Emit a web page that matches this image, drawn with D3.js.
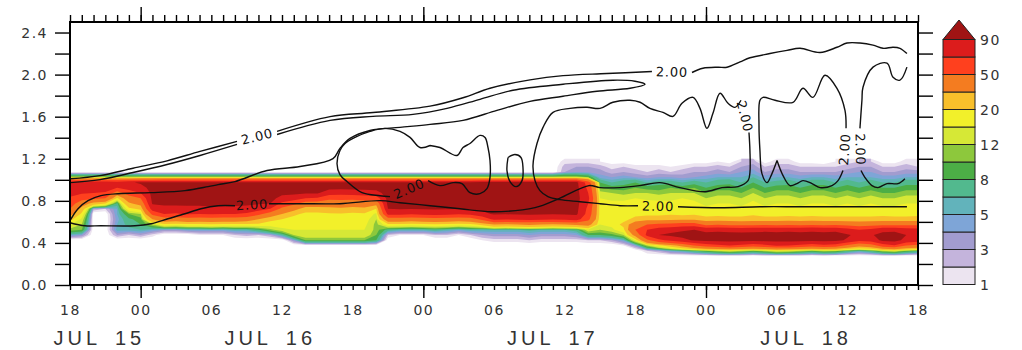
<!DOCTYPE html>
<html>
<head>
<meta charset="utf-8">
<script src="https://cdn.jsdelivr.net/npm/d3@7"></script>
<style>
  html, body { margin: 0; padding: 0; background: #fff; }
  svg { display: block; }
</style>
</head>
<body>
<svg id="chart" width="1022" height="350"></svg>
<script>
// ---------------- data ----------------
// Time axis: hours after JUL 15 18:00, one profile per hour.
const profileStartHour = 0;
const profileStepHours = 1;
const hourTickValues = [0, 6, 12, 18, 24, 30, 36, 42, 48, 54, 60, 66, 72];
const hourTickLabels = ["18", "00", "06", "12", "18", "00", "06", "12", "18", "00", "06", "12", "18"];
const dayTickHours = [6, 30, 54];
const dateLabels = ["JUL 15", "JUL 16", "JUL 17", "JUL 18"];
const dateLabelHours = [2.5, 17, 41, 62.5];

// Height axis (km)
const heightTickValues = [0, 0.2, 0.4, 0.6, 0.8, 1.0, 1.2, 1.4, 1.6, 1.8, 2.0, 2.2, 2.4];
const heightLabelValues = [0, 0.4, 0.8, 1.2, 1.6, 2.0, 2.4];

// Shading levels and their colours (last colour = above the top level)
const levels = [1, 2, 3, 4, 5, 6, 8, 10, 12, 15, 20, 30, 50, 70, 90];
const levelColors = ["#ece4f0", "#c4b4dc", "#a29ccf", "#7ea5d7", "#62b3bb", "#52b98e", "#4cae46",
                     "#8dc83c", "#d6e836", "#f2f02a", "#f8bf2b", "#f47c20", "#ff401e", "#dc1c1c", "#a01414"];
const colorbarLabelLevels = [1, 3, 5, 8, 12, 20, 50, 90];

// Sample heights of each profile (km), bottom to top
const sampleHeights = [0.275, 0.325, 0.375, 0.425, 0.475, 0.525, 0.575, 0.625, 0.675, 0.725,
                       0.775, 0.825, 0.875, 0.925, 0.975, 1.025, 1.075, 1.125, 1.175];

// Hourly profiles, bottom to top
const field = [
  [0,0,0,0,5,11,15,22,35,50,60,68,75,80,80,12,0,0,0],
  [0,0,0,0,4,10,12,14,18,25,38,58,72,80,82,12,0,0,0],
  [0,0,0,0,0,0,0,0,0,3,25,55,70,80,82,12,0,0,0],
  [0,0,0,0,0,0,0,0,0,2,20,50,68,80,82,12,0,0,0],
  [0,0,0,0,3,5.5,5,4.5,5,5,7,18,40,70,80,12,0,0,0],
  [0,0,0,0,2,5.5,6.5,7.5,10,18,28,40,60,78,88,12,0,0,0],
  [0,0,0,0,3,6,8,9,12,22,35,50,70,85,92,12,0,0,0],
  [0,0,0,0,1.5,5,12,30,55,80,92,95,95,95,93,12,0,0,0],
  [0,0,0,0,0,4,18,40,70,85,93,95,96,96,94,12,0,0,0],
  [0,0,0,0,0,4,17,38,68,85,93,95,96,96,94,12,0,0,0],
  [0,0,0,0,0,5,18,42,72,86,93,95,96,96,94,12,0,0,0],
  [0,0,0,0,1,5,18,40,70,85,94,95,96,96,94,12,0,0,0],
  [0,0,0,0,1,5,19,42,72,87,94,95,96,96,94,12,0,0,0],
  [0,0,0,0,1,5,18,40,70,86,93,95,96,96,94,12,0,0,0],
  [0,0,0,0,2,6,18,40,70,86,94,95,96,96,94,12,0,0,0],
  [0,0,0,0,2.5,6,18,38,66,85,93,95,96,96,94,12,0,0,0],
  [0,0,0,0,2,8,18,30,55,80,92,95,96,96,94,12,0,0,0],
  [0,0,0,0,3,11,17,22,40,70,90,95,96,96,94,12,0,0,0],
  [0,0,0,0,6,14,17,20,30,45,65,85,94,96,94,12,0,0,0],
  [0,0,0,4,12,15,16,17,22,35,55,80,94,96,94,12,0,0,0],
  [0,0,0,10,14,15,16,16,18,25,40,70,92,96,94,12,0,0,0],
  [0,0,0,10,14,15,16,16,18,25,40,68,92,96,94,12,0,0,0],
  [0,0,0,10,14,15,16,17,19,27,38,55,80,95,94,12,0,0,0],
  [0,0,0,10,14,15,16,17,19,28,40,55,78,95,94,12,0,0,0],
  [0,0,0,10,14,15,16,16,18,26,38,55,80,95,94,12,0,0,0],
  [0,0,0,10,14,15,16,17,19,27,40,58,82,95,94,12,0,0,0],
  [0,0,0,8,10,11,11,12,14,20,35,60,85,95,94,12,0,0,0],
  [0,0,0,0,2,7,18,40,75,90,95,96,96,96,94,12,0,0,0],
  [0,0,0,0,1,6,18,40,75,92,95,96,96,96,94,12,0,0,0],
  [0,0,0,0,1,6,17,38,72,91,95,96,96,96,94,12,0,0,0],
  [0,0,0,0,1,6,18,40,75,92,95,96,96,96,94,12,0,0,0],
  [0,0,0,0,2,7,19,42,76,92,95,96,96,96,94,12,0,0,0],
  [0,0,0,0,2,6,18,40,75,92,95,96,96,96,94,12,0,0,0],
  [0,0,0,0,1,5,17,38,72,91,95,96,96,96,94,12,0,0,0],
  [0,0,0,0,2,6,18,40,75,92,95,96,96,96,94,12,0,0,0],
  [0,0,0,1,3,6,22,55,85,94,96,96,96,96,95,12,0,0,0],
  [0,0,0,1.5,3.5,6,30,75,92,95,96,96,96,96,95,12,0,0,0],
  [0,0,0,1.5,3.5,6,28,72,91,95,96,96,96,96,95,12,0,0,0],
  [0,0,0,1.5,3.5,6,30,75,92,95,96,96,96,96,95,12,0,0,0],
  [0,0,0,2,4,6.5,32,76,92,95,96,96,96,96,95,12,0,0,0],
  [0,0,0,1.5,3.5,6,30,74,92,95,96,96,96,96,95,12,0,0,0],
  [0,0,0,1.5,3.5,6,28,72,91,95,96,96,96,96,95,12,0,0,0],
  [0,0,0,1.5,3.5,6,30,75,92,95,96,96,96,96,95,12,3,2.5,1.5],
  [0,0,0,1.5,4,7,32,78,93,95,96,96,96,96,95,12,3.5,3,1.5],
  [0,0,0,2,8,14,35,55,62,65,70,75,70,65,60,10,3.5,3,1.5],
  [0,0,0,2,8,12,15,16,17,17,17,15,13,10,8,4.5,3.5,2.5,1],
  [0,0,0,3,9,14,16,16,17,17,16,14,12,9,6,4,2.5,1.5,0.5],
  [0,0,1,5,12,18,22,18,17,17,16,14,11,9,7,4.5,3,2,0.5],
  [0,0,4,15,35,50,40,22,18,17,16,15,12,10,8,4,2.5,1.5,0],
  [0,2,12,45,75,70,50,25,18,17,17,14,12,9,6,3.5,2,1.5,0],
  [0,3,18,65,90,80,55,25,18,18,16,14,11,9,7,4,2.5,1.5,0],
  [0,5,25,75,93,85,55,26,19,17,16,14,12,10,7,4,2,1,0],
  [0,6,35,85,95,88,60,27,18,17,16,15,12,9,6,3.5,2.5,1.5,0],
  [0,8,50,92,96,90,60,27,19,17,16,14,12,10,7,4,3,2,0.5],
  [0,10,60,94,96,85,45,22,18,16,14,12,10,8,6,4.5,3,2,0.5],
  [0,12,65,95,96,86,48,23,18,16,15,13,11,9,7,5,3.5,2.5,1],
  [0,14,70,96,96,85,45,22,18,17,15,13,11,9,7.5,5,3,2,0.5],
  [0,12,65,95,96,84,44,22,18,16,14,12,10,8,6,5,4,3,2],
  [0,10,60,94,96,85,45,23,19,17,16,14,12,10,8,6,4.5,3.5,2.5],
  [0,12,65,95,96,86,46,22,18,16,14,12,10,8,6,4.5,3,2,0.5],
  [0,15,72,96,96,85,45,22,18,16,15,13,11,9,6.5,5,3.5,2.5,1.5],
  [0,14,70,96,96,86,46,23,18,17,15,13,11,9,7,5,3.5,2.5,1.5],
  [0,12,65,95,96,85,45,22,18,16,14,12,10,8,6,4.5,3,2,0.5],
  [0,10,60,94,96,86,47,23,18,17,15,13,11,9,7,5,3,2,0.5],
  [0,12,65,95,96,85,45,22,18,16,15,13,11,9,7,5,3,2,0],
  [0,11,62,94,96,86,46,22,18,16,14,12,10,8,6,4.5,3,2,1],
  [0,8,45,88,92,80,42,22,18,17,15,13,11,9,7,5,3.5,2.5,1.5],
  [0,6,35,75,85,70,40,22,18,16,14,12,10,8,6,5,4,3,2],
  [0,8,40,80,88,75,42,22,18,17,15,13,11,9,7,5,4,3,2],
  [0,12,60,94,96,85,45,23,18,16,14,12,10,8,6,4.5,3,2,0.5],
  [0,14,68,96,96,86,45,22,18,16,14,12,10,8,6,4.5,3,2,0.5],
  [0,10,50,85,90,80,45,22,18,16,15,13,11,9,7,5,3.5,2.5,1.5],
  [0,8,45,80,88,78,45,23,18,16,15,13,11,9,7,5,3.5,2,1]
];

// 2.00 isolines as [hour, km]; null marks a break where the value is written
const contourLevel = 2;
const contourA = [[0,1.01],[2.55,1.04],[5.35,1.11],[8.24,1.18],[11.04,1.27],[14.18,1.365],null,[17.58,1.46],
  [22.08,1.60],[25.73,1.64],[30.57,1.70],[33.37,1.78],[35.66,1.87],[39.06,1.95],[41.86,1.99],[45.59,2.01],[49.41,2.03],null,
  [52.81,2.02],[53.74,2.06],[55.02,2.07],[55.78,2.07],[56.89,2.12],[57.73,2.16],[59.43,2.20],[60.88,2.23],[61.98,2.25],
  [63.68,2.21],[65.12,2.26],[65.97,2.30],[67.07,2.30],[68.18,2.28],[69.03,2.25],[69.88,2.26],[70.47,2.25],[71.06,2.20]];
const contourB = [[0,0.973],[2.55,1.002],[5.35,1.069],[8.24,1.145],[11.04,1.231],[14.18,1.336],null,[17.58,1.431],
  [22.08,1.565],[25.73,1.603],[29.12,1.622],[32.01,1.679],[34.81,1.765],[37.61,1.851],[41.86,1.908],[46.10,1.947],
  [47.97,1.937],[48.82,1.908],[47.55,1.870],[44.74,1.842],[41.86,1.794],[39.06,1.746],[36.25,1.660],[33.37,1.565],
  [30.57,1.527],[28.02,1.498],[25.47,1.469],[23.77,1.393],[22.92,1.298],[22.33,1.202],[19.53,1.126],[16.73,1.088],
  [14.01,0.983],[12.57,0.954],[11.72,0.935],[9.76,0.897],[6.88,0.878],[4.08,0.868],[2.63,0.849],[1.53,0.802],
  [0.68,0.725],[0,0.611]];
const contourLower = [[0,0.592],[1.27,0.563],[2.63,0.563],[5.52,0.563],[6.88,0.582],[8.32,0.630],[9.76,0.677],
  [11.12,0.725],[12.57,0.754],[14.01,0.754],null,[16.90,0.773],[19.53,0.773],[22.92,0.773],[26.32,0.802],[28.02,0.782],
  [30.57,0.754],[33.11,0.725],[35.83,0.697],[39.48,0.735],[41.52,0.821],[44.07,0.945],[45.0,0.926],[46.70,0.926],
  [48.40,0.945],[50.09,0.973],[51.79,0.926],[53.91,0.887],[55.36,0.926],[56.72,0.935],[57.57,0.992],[57.73,1.069],
  [57.73,1.279],[57.65,1.450],null,[56.97,1.756],[56.46,1.689],[55.87,1.727],[55.19,1.823],[54.59,1.632],[54.08,1.489],
  [53.49,1.679],[52.90,1.784],[51.96,1.727],[51.20,1.603],[50.35,1.641],[49.24,1.679],[48.40,1.737],[47.55,1.756],
  [46.10,1.737],[45.0,1.679],[43.90,1.689],[42.45,1.679],[41.01,1.641],[40.16,1.498],[39.65,1.345],[39.31,1.136],
  [39.48,0.992],[39.90,0.897],[40.58,0.840],[41.60,0.811],[43.30,0.792],[45.0,0.773],[46.70,0.754],[48.23,0.754],null,
  [51.62,0.744],[55.19,0.735],[58.58,0.744],[61.98,0.744],[65.38,0.744],[67.92,0.744],[71.06,0.744]];
const contourLobe = [[30.57,1.326],[29.72,1.307],[28.87,1.403],[28.02,1.460],[26.74,1.489],[25.47,1.460],[24.20,1.403],
  [23.35,1.345],[22.92,1.279],[22.67,1.155],[22.92,1.050],[23.52,0.983],[24.79,0.878],[26.32,0.849],[27.17,0.840],null,
  [30.40,0.992],[31.41,0.945],[32.52,0.973],[33.28,0.964],[33.96,0.878],[34.81,0.868],[35.40,0.916],[35.66,1.021],
  [35.66,1.183],[35.49,1.307],[35.24,1.403],[34.81,1.422],[33.96,1.345],[33.37,1.307],[32.86,1.231],[31.41,1.307],
  [30.57,1.326]];
const contourOval = [[37.19,1.212],[37.78,1.240],[38.29,1.212],[38.46,1.116],[38.38,0.992],[37.87,0.935],[37.36,0.983],
  [37.10,1.088],[37.19,1.212]];
const contourLoop = [[60.03,1.183],[59.60,1.059],[59.18,0.973],[58.75,1.059],[58.58,1.279],[58.50,1.517],[58.58,1.756],
  [58.84,1.784],[59.86,1.756],[61.39,1.737],[62.23,1.870],[63.08,1.784],[64.10,1.994],[65.12,1.870],[65.80,1.660],
  [65.89,1.489],null,[65.63,1.088],[65.21,0.992],[64.70,0.945],[63.68,0.926],[63.0,0.964],[62.23,0.992],[61.72,0.964],
  [61.13,0.945],[60.54,1.040],[60.03,1.183]];
const contourRight = [[70.89,1.011],[70.30,0.964],[69.37,0.964],[68.60,0.926],[68.09,0.945],[67.50,1.021],[67.16,1.088],null,
  [67.07,1.489],[67.24,1.756],[67.33,1.880],[68.18,2.071],[69.37,2.109],[69.88,1.975],[70.47,1.947],[71.06,2.071]];

const allContours = [contourA, contourB, contourLower, contourLobe, contourOval, contourLoop, contourRight];
const labeledContours = [contourA, contourLower, contourLobe, contourLoop, contourRight];

// ---------------- layout ----------------
const x = d3.scaleLinear().domain([0, 72]).range([70, 918]);
const y = d3.scaleLinear().domain([0, 2.5]).range([285, 22]);
const svg = d3.select("#chart");
const ink = "#333";

svg.append("defs").append("clipPath").attr("id", "plotClip")
  .append("rect")
  .attr("x", x(0)).attr("y", y(2.5))
  .attr("width", x(72) - x(0)).attr("height", y(0) - y(2.5));

// ---------------- shaded field ----------------
const nx = field.length, ny = sampleHeights.length;
const grid = new Array(nx * ny);
field.forEach((profile, i) => profile.forEach((v, j) => { grid[j * nx + i] = v; }));

const gridHour = d3.scaleLinear().domain([0.5, nx - 0.5])
  .range([profileStartHour, profileStartHour + (nx - 1) * profileStepHours]);
const gridHeight = d3.scaleLinear().domain([0.5, ny - 0.5])
  .range([sampleHeights[0], sampleHeights[ny - 1]]);
const gridToScreen = d3.geoTransform({
  point(px, py) { this.stream.point(x(gridHour(px)), y(gridHeight(py))); }
});
const bandPath = d3.geoPath(gridToScreen);
const bands = d3.contours().size([nx, ny]).thresholds(levels)(grid);

svg.append("g").attr("clip-path", "url(#plotClip)")
  .selectAll("path").data(bands).join("path")
  .attr("d", bandPath)
  .attr("fill", (d, i) => levelColors[i]);

// ---------------- isolines ----------------
const isoline = d3.line()
  .defined(d => d !== null)
  .x(d => x(d[0])).y(d => y(d[1]))
  .curve(d3.curveCatmullRom.alpha(0.5));

const lineLayer = svg.append("g").attr("clip-path", "url(#plotClip)");
lineLayer.selectAll("path").data(allContours).join("path")
  .attr("d", isoline)
  .attr("fill", "none").attr("stroke", "#111").attr("stroke-width", 1.4)
  .attr("stroke-linejoin", "round");

const labelSpots = [];
labeledContours.forEach(pts => pts.forEach((p, k) => {
  if (p !== null) return;
  const a = pts[k - 1], b = pts[k + 1];
  const x0 = x(a[0]), y0 = y(a[1]), x1 = x(b[0]), y1 = y(b[1]);
  let ang = Math.atan2(y1 - y0, x1 - x0) * 180 / Math.PI;
  if (ang > 90) ang -= 180;
  if (ang < -90) ang += 180;
  labelSpots.push({ cx: (x0 + x1) / 2, cy: (y0 + y1) / 2, ang });
}));
lineLayer.selectAll("text").data(labelSpots).join("text")
  .attr("transform", d => `translate(${d.cx},${d.cy}) rotate(${d.ang})`)
  .attr("text-anchor", "middle").attr("dy", "0.36em")
  .attr("font-family", "DejaVu Sans").attr("font-size", 13)
  .attr("letter-spacing", "0.8px").attr("fill", "#111")
  .text(d3.format(".2f")(contourLevel));

// ---------------- axes ----------------
function styleAxis(g) {
  g.select(".domain").remove();
  g.selectAll(".tick line").attr("stroke", "#000").attr("stroke-width", 1.4);
  g.attr("font-family", "DejaVu Sans").attr("font-size", 14);
  g.selectAll(".tick text").attr("fill", ink).style("letter-spacing", "1.5px");
}
const everyHour = d3.range(profileStartHour, 73, profileStepHours);

svg.append("g").attr("transform", `translate(0,${y(0)})`)
  .call(d3.axisBottom(x).tickValues(everyHour).tickSize(5).tickFormat("")).call(styleAxis);
svg.append("g").attr("transform", `translate(0,${y(0)})`)
  .call(d3.axisBottom(x).tickValues(dayTickHours).tickSize(13).tickFormat("")).call(styleAxis);
svg.append("g").attr("transform", `translate(0,${y(0)})`)
  .call(d3.axisBottom(x).tickValues(hourTickValues).tickSize(0).tickPadding(20)
    .tickFormat((d, i) => hourTickLabels[i])).call(styleAxis);

svg.append("g").attr("transform", `translate(0,${y(2.5)})`)
  .call(d3.axisTop(x).tickValues(everyHour).tickSize(7).tickFormat("")).call(styleAxis);
svg.append("g").attr("transform", `translate(0,${y(2.5)})`)
  .call(d3.axisTop(x).tickValues(dayTickHours).tickSize(15).tickFormat("")).call(styleAxis);

svg.append("g").attr("transform", `translate(${x(0)},0)`)
  .call(d3.axisLeft(y).tickValues(heightTickValues).tickSize(15).tickPadding(7)
    .tickFormat(d => heightLabelValues.includes(d) ? d3.format(".1f")(d) : "")).call(styleAxis);
svg.append("g").attr("transform", `translate(${x(72)},0)`)
  .call(d3.axisRight(y).tickValues(heightTickValues).tickSize(15).tickFormat("")).call(styleAxis);

svg.append("rect")
  .attr("x", x(0)).attr("y", y(2.5))
  .attr("width", x(72) - x(0)).attr("height", y(0) - y(2.5))
  .attr("fill", "none").attr("stroke", "#000").attr("stroke-width", 2);

svg.append("g").selectAll("text").data(dateLabels).join("text")
  .attr("x", (d, i) => x(dateLabelHours[i])).attr("y", 345)
  .attr("text-anchor", "middle")
  .attr("font-family", "Liberation Sans").attr("font-size", 20)
  .style("letter-spacing", "4px").style("word-spacing", "5px")
  .attr("fill", ink).text(d => d);

// ---------------- colour bar ----------------
const cbLeft = 943, cbWidth = 32;
const cb = d3.scaleLinear().domain([0, levels.length - 1]).range([284.5, 39.5]);
const cbg = svg.append("g");
cbg.selectAll("rect").data(levels.slice(0, -1)).join("rect")
  .attr("x", cbLeft).attr("y", (d, i) => cb(i + 1))
  .attr("width", cbWidth).attr("height", (d, i) => cb(i) - cb(i + 1))
  .attr("fill", (d, i) => levelColors[i])
  .attr("stroke", "#222").attr("stroke-width", 1);
const topY = cb(levels.length - 1);
cbg.append("path")
  .attr("d", `M${cbLeft},${topY}L${cbLeft + cbWidth},${topY}L${cbLeft + cbWidth / 2},${topY - 19.5}Z`)
  .attr("fill", levelColors[levels.length - 1])
  .attr("stroke", "#222").attr("stroke-width", 1).attr("stroke-linejoin", "round");
cbg.selectAll("text").data(colorbarLabelLevels).join("text")
  .attr("x", cbLeft + cbWidth + 5).attr("y", d => cb(levels.indexOf(d)))
  .attr("dy", "0.36em")
  .attr("font-family", "DejaVu Sans").attr("font-size", 14)
  .style("letter-spacing", "1.5px")
  .attr("fill", ink).text(d => d);
</script>
</body>
</html>
